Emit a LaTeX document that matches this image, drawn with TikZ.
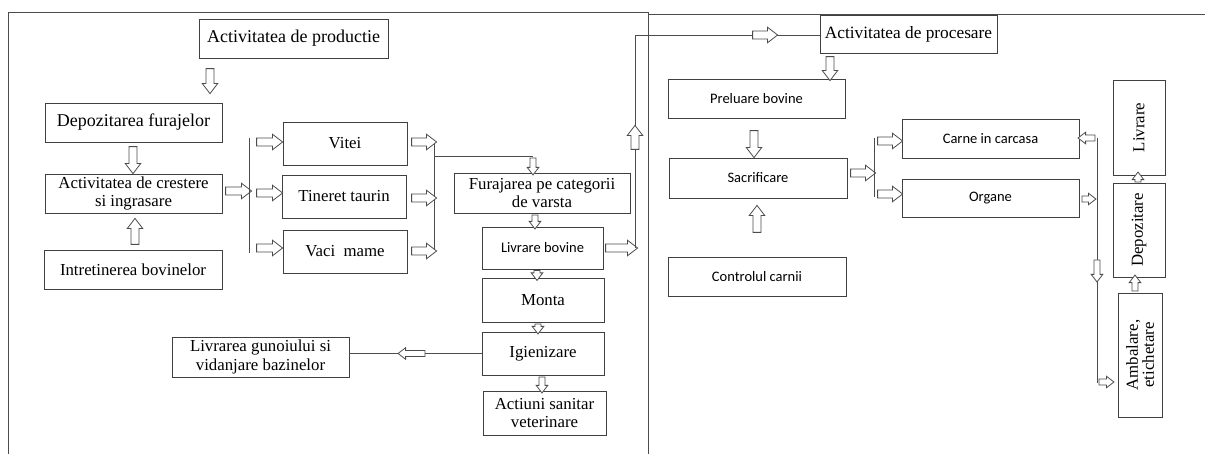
\documentclass[tikz,border=0pt]{standalone}
\usepackage{fontspec}
\setmainfont{Liberation Serif}
\newfontfamily\sansfam{Carlito}
\usetikzlibrary{shapes.arrows}
\begin{document}
\begin{tikzpicture}[x=1pt,y=-1pt,
  box/.style={draw=black!75, line width=0.9pt, inner sep=1pt, align=center,
    font=\fontsize{16.8}{18.5}\selectfont, text=black},
  bigbox/.style={box, font=\fontsize{18}{20}\selectfont},
  sbox/.style={box, font=\sansfam\fontsize{14.5}{17}\selectfont},
  harr/.style={single arrow, draw=black!70, fill=white, line width=0.8pt,
    inner sep=3.6pt, single arrow head extend=3.8pt, single arrow tip angle=75,
    minimum height=#1},
  harr/.default=26pt,
  sarr/.style={harr=#1, inner sep=2.6pt, single arrow head extend=2.8pt},
  ln/.style={draw=black!70, line width=0.8pt}
]
\useasboundingbox (0,0) rectangle (1205,454);

% frames
\draw[ln] (8,454) -- (8,12) -- (648,12) -- (648,454);
\draw[ln] (648,14) -- (1205,14);

% left part boxes
\node[bigbox, minimum width=189pt, minimum height=39pt] (prod) at (293.5,38.5) {Activitatea de productie};
\node[bigbox, minimum width=177pt, minimum height=39pt] (depoz) at (133.5,122.5) {Depozitarea furajelor};
\node[box, minimum width=177pt, minimum height=39pt] (crest) at (133.5,193.5) {Activitatea de crestere\\si ingrasare};
\node[box, minimum width=178pt, minimum height=39pt] (intret) at (133,269.5) {Intretinerea bovinelor};
\node[box, minimum width=124pt, minimum height=43pt] (vitei) at (345,143.5) {Vitei};
\node[box, minimum width=124pt, minimum height=43pt] (tineret) at (344,196.5) {Tineret taurin};
\node[box, minimum width=124pt, minimum height=43pt] (vaci) at (345,251.5) {Vaci\ \ mame};
\node[box, minimum width=176pt, minimum height=40pt] (furaj) at (542,193) {Furajarea pe categorii\\de varsta};
\node[sbox, minimum width=121pt, minimum height=42pt] (livb) at (542.5,248) {Livrare bovine};
\node[box, minimum width=122pt, minimum height=44pt] (monta) at (543,300) {Monta};
\node[box, minimum width=122pt, minimum height=43pt] (igien) at (543,353.5) {Igienizare};
\node[box, minimum width=123pt, minimum height=44pt] (actiuni) at (544.5,413) {Actiuni sanitar\\veterinare};
\node[box, minimum width=177pt, minimum height=40pt] (gunoi) at (260.5,357) {Livrarea gunoiului si\\vidanjare bazinelor};

% right part boxes
\node[box, minimum width=177pt, minimum height=38pt, font=\fontsize{17.3}{19}\selectfont] (proc) at (908.5,34) {Activitatea de procesare};
\node[sbox, minimum width=177pt, minimum height=39pt] (prel) at (756.5,98.5) {Preluare bovine};
\node[sbox, minimum width=178pt, minimum height=40pt] (sacr) at (758,178) {Sacrificare};
\node[sbox, minimum width=178pt, minimum height=39pt] (contr) at (757,276.5) {Controlul carnii};
\node[sbox, minimum width=177pt, minimum height=39pt] (carne) at (990.5,138.5) {Carne in carcasa};
\node[sbox, minimum width=177pt, minimum height=38pt] (organe) at (990.5,198) {Organe};
\node[box, rotate=90, minimum width=95pt, minimum height=52pt] (livr) at (1139,127.5) {Livrare};
\node[box, rotate=90, minimum width=94pt, minimum height=52pt] (depz) at (1139,230) {Depozitare};
\node[box, rotate=90, minimum width=124pt, minimum height=44pt, font=\fontsize{16.8}{16}\selectfont] (amb) at (1140,355) {Ambalare,\\etichetare};

% hollow arrows, left part
\node[harr=25pt, rotate=-90] (a1) at (210,78.5) {};
\node[harr=27pt, rotate=-90] (a2) at (133,157.5) {};
\node[harr=26pt, rotate=90] (a3) at (135,234) {};
\node[harr=26pt] (a4) at (236,191) {};

% bus 1
\coordinate (b1t) at (249.5,138);
\coordinate (b1b) at (249.5,253);
\draw[ln] (b1t) -- (b1b);
\node[harr=26pt] (a5) at (267,142) {};
\node[harr=26pt] (a6) at (267,193) {};
\node[harr=26pt] (a7) at (267,248) {};

% bus 2
\coordinate (b2t) at (434,140);
\coordinate (b2b) at (434,253);
\draw[ln] (b2t) -- (b2b);
\node[harr=25pt] (a8) at (421.5,142) {};
\node[harr=25pt] (a9) at (421.5,198) {};
\node[harr=25pt] (a10) at (421.5,251) {};
\coordinate (b2j) at (434,156);
\coordinate (fj) at (533,156);
\draw[ln] (b2j) -- (fj);
\node[sarr=17pt, rotate=-90] (a11) at (533,164.5) {};

% central column
\node[sarr=14pt, rotate=-90] (a12) at (535,220) {};
\node[sarr=10pt, rotate=-90] (a13) at (537,273.5) {};
\node[sarr=10pt, rotate=-90] (a14) at (538,327) {};
\node[sarr=16pt, rotate=-90] (a15) at (542,383) {};

% igienizare -> gunoi
\draw[ln] (igien.west) -- (igien.west -| gunoi.east);
\node[sarr=27pt, rotate=180] (a16) at (413.5,353.5) {};

% livrare bovine -> activitatea de procesare
\node[harr=32pt] (a17) at (619,248) {};
\coordinate (u1) at (635,248);
\coordinate (u2) at (635,35);
\draw[ln] (u1) -- (u2) -- (proc.west |- u2);
\node[harr=24pt, rotate=90] (a18) at (635,140) {};
\node[harr=25pt] (a19) at (762.5,35) {};

% processing part
\node[harr=24pt, rotate=-90] (a20) at (830,66) {};
\node[harr=27pt, rotate=-90] (a21) at (754,141.5) {};
\node[harr=27pt, rotate=90] (a22) at (757,221.5) {};
\node[harr=25pt] (a23) at (860.5,173) {};

% bus 3
\coordinate (b3t) at (874,138);
\coordinate (b3b) at (874,197);
\draw[ln] (b3t) -- (b3b);
\node[harr=25pt] (a24) at (887.5,141) {};
\node[harr=25pt] (a25) at (887.5,194) {};

% bus 4
\coordinate (b4t) at (1097,138);
\coordinate (b4b) at (1097,383);
\draw[ln] (b4t) -- (b4b);
\node[sarr=17pt, rotate=180] (a26) at (1088.5,138) {};
\node[sarr=14pt] (a27) at (1087,199) {};
\node[sarr=22pt, rotate=-90] (a28) at (1097,269) {};
\node[sarr=15pt] (a29) at (1104.5,382) {};
\node[sarr=16pt, rotate=90] (a30) at (1135,285) {};
\node[sarr=9pt, rotate=90] (a31) at (1138,179) {};
\end{tikzpicture}
\end{document}
